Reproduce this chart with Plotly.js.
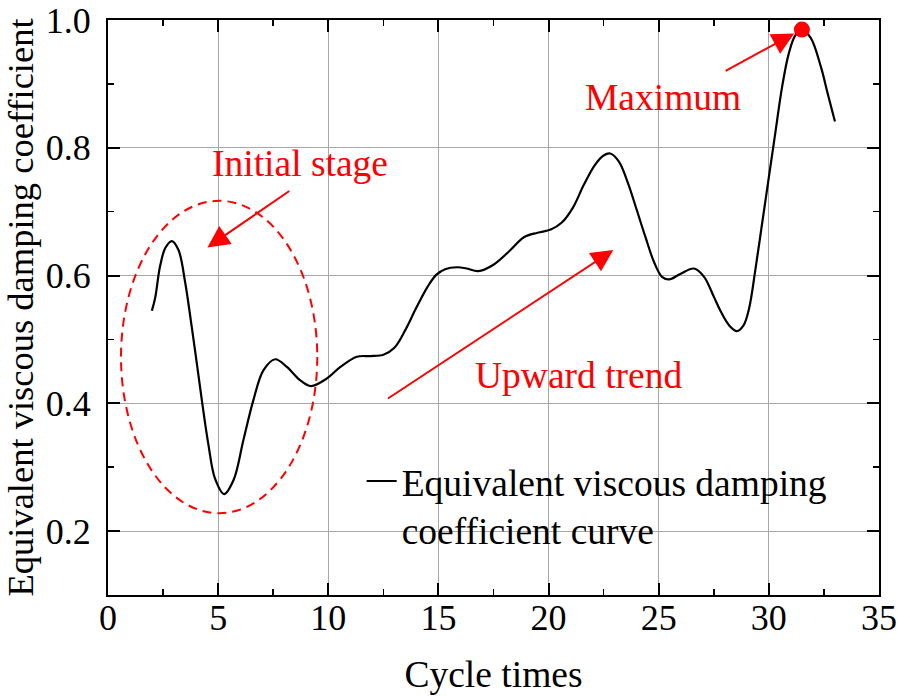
<!DOCTYPE html>
<html>
<head>
<meta charset="utf-8">
<script src="https://cdn.plot.ly/plotly-3.0.1.min.js"></script>
<style>html,body{margin:0;padding:0;background:#fff;}#chart{width:898px;height:696px;}</style>
</head>
<body>
<div id="chart"></div>
<script>
// Curve (cycle times vs. damping coefficient)
const cycles = [1.99, 2.14, 2.36, 2.6, 2.9, 3.2, 3.5, 3.8, 4.03, 4.26, 4.56, 4.86, 5.27, 5.7, 6.15, 6.6, 7.06, 7.59, 8.12, 8.73, 9.21, 9.94, 10.55, 11.3, 11.9, 12.5, 13.0, 13.5, 14.0, 14.5, 14.9, 15.3, 15.85, 16.3, 16.8, 17.5, 18.27, 18.88, 19.5, 20.1, 20.6, 21.1, 21.6, 22.1, 22.5, 22.8, 23.2, 23.6, 24.0, 24.4, 24.8, 25.15, 25.47, 26.0, 26.6, 27.06, 27.5, 27.8, 28.2, 28.55, 28.85, 29.1, 29.4, 29.7, 30.0, 30.3, 30.6, 30.9, 31.2, 31.5, 31.9, 32.36, 32.67, 33.0];
const damping = [0.545, 0.565, 0.614, 0.643, 0.654, 0.640, 0.590, 0.520, 0.463, 0.405, 0.335, 0.282, 0.258, 0.280, 0.343, 0.405, 0.452, 0.469, 0.457, 0.436, 0.427, 0.439, 0.457, 0.473, 0.474, 0.476, 0.487, 0.515, 0.550, 0.582, 0.601, 0.610, 0.613, 0.611, 0.607, 0.617, 0.640, 0.660, 0.667, 0.672, 0.683, 0.706, 0.742, 0.773, 0.788, 0.791, 0.778, 0.745, 0.703, 0.660, 0.620, 0.598, 0.594, 0.603, 0.611, 0.598, 0.567, 0.545, 0.522, 0.513, 0.522, 0.548, 0.612, 0.683, 0.754, 0.825, 0.895, 0.947, 0.976, 0.985, 0.972, 0.927, 0.885, 0.841];
const maxCycle = [31.5];
const maxValue = [0.985];

const seriesName = "Equivalent viscous damping<br>coefficient curve";
const xTitle = "Cycle times";
const yTitle = "Equivalent viscous damping coefficient";
const labelInitial = "Initial stage";
const labelUpward = "Upward trend";
const labelMax = "Maximum";

const FONT = "Liberation Serif, Times New Roman, serif";
const RED = "#ff0000";

const traces = [
  {
    x: cycles, y: damping, type: "scatter", mode: "lines",
    name: seriesName,
    line: {color: "#000000", width: 2.2, shape: "spline", smoothing: 1}
  },
  {
    x: maxCycle, y: maxValue, type: "scatter", mode: "markers",
    showlegend: false, hoverinfo: "skip",
    marker: {color: RED, size: 16}
  }
];

const axisCommon = {
  showline: true, linecolor: "#000", linewidth: 2, mirror: "allticks",
  ticks: "inside", ticklen: 12, tickwidth: 2, tickcolor: "#000",
  showgrid: true, gridcolor: "#a8a8a8", gridwidth: 1.2,
  zeroline: false,
  tickfont: {family: FONT, size: 36, color: "#000"}
};

const layout = {
  width: 898, height: 696,
  margin: {l: 108, r: 19, t: 20, b: 101},
  paper_bgcolor: "#fff", plot_bgcolor: "#fff",
  font: {family: FONT, color: "#000"},
  showlegend: true,
  legend: {
    x: 0.329, y: 0.252, xanchor: "left", yanchor: "top",
    bgcolor: "rgba(0,0,0,0)", borderwidth: 0, valign: "top",
    font: {family: FONT, size: 37.5, color: "#000"}
  },
  xaxis: Object.assign({}, axisCommon, {
    range: [0, 35], tick0: 0, dtick: 5,
    ticklabelstandoff: -10,
    minor: {tick0: 0, dtick: 2.5, ticks: "inside", ticklen: 6, tickwidth: 1.5, tickcolor: "#000", showgrid: false},
    title: {text: xTitle, font: {family: FONT, size: 37.5, color: "#000"}, standoff: 24}
  }),
  yaxis: Object.assign({}, axisCommon, {
    range: [0.1, 1.0], tick0: 0.2, dtick: 0.2, tickformat: ".1f",
    ticklabelstandoff: 8,
    minor: {tick0: 0.1, dtick: 0.1, ticks: "inside", ticklen: 6, tickwidth: 1.5, tickcolor: "#000", showgrid: false},
    title: {text: yTitle, font: {family: FONT, size: 36.5, color: "#000"}, standoff: 8}
  }),
  shapes: [
    {type: "circle", xref: "x", yref: "y", x0: 0.59, x1: 9.5, y0: 0.228, y1: 0.717,
     line: {color: RED, width: 2, dash: "9px,6px"}}
  ],
  annotations: [
    {x: 8.73, y: 0.775, xref: "x", yref: "y", text: labelInitial, showarrow: false,
     font: {family: FONT, size: 37.5, color: RED}},
    {x: 4.51, y: 0.644, ax: 8.30, ay: 0.734, xref: "x", yref: "y", axref: "x", ayref: "y",
     text: "", showarrow: true, arrowhead: 2, arrowsize: 2.2, arrowwidth: 2, arrowcolor: RED, standoff: 0},
    {x: 21.36, y: 0.443, xref: "x", yref: "y", text: labelUpward, showarrow: false,
     font: {family: FONT, size: 37.5, color: RED}},
    {x: 22.94, y: 0.640, ax: 12.64, ay: 0.406, xref: "x", yref: "y", axref: "x", ayref: "y",
     text: "", showarrow: true, arrowhead: 2, arrowsize: 2.2, arrowwidth: 2, arrowcolor: RED, standoff: 0},
    {x: 25.2, y: 0.878, xref: "x", yref: "y", text: labelMax, showarrow: false,
     font: {family: FONT, size: 37.5, color: RED}},
    {x: 31.15, y: 0.979, ax: 27.97, ay: 0.919, xref: "x", yref: "y", axref: "x", ayref: "y",
     text: "", showarrow: true, arrowhead: 2, arrowsize: 2.2, arrowwidth: 2, arrowcolor: RED, standoff: 0}
  ]
};

Plotly.newPlot("chart", traces, layout, {displayModeBar: false, staticPlot: true});
</script>
</body>
</html>
